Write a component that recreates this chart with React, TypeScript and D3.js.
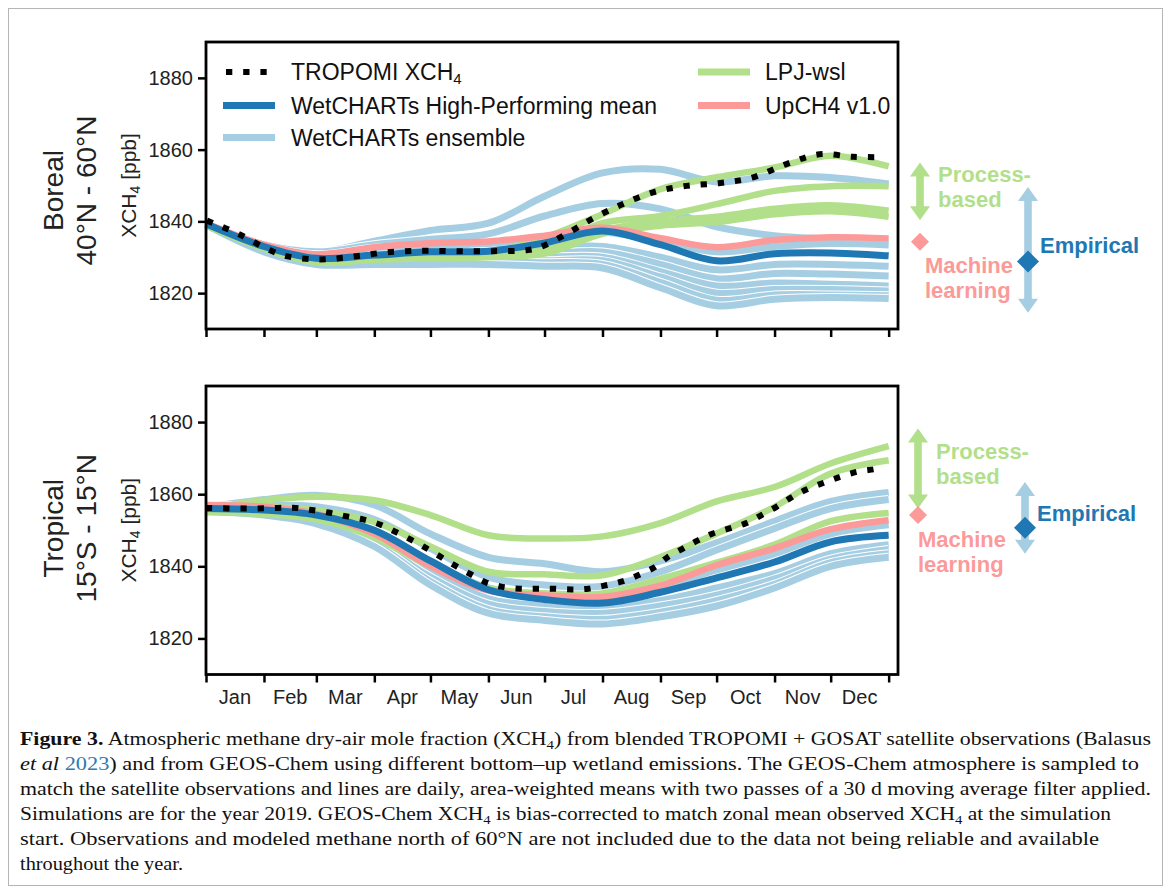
import React, { useEffect, useRef } from 'react';
import * as d3 from 'd3';

// day-of-year of the first of each month (+ end of year)
const monthStartDays = [0, 31, 59, 90, 120, 151, 181, 212, 243, 273, 304, 334, 365];
const monthMidDays = [15.5, 45, 74.5, 105, 135.5, 166, 196.5, 227.5, 258, 288.5, 319, 349.5];
const monthLabels = ['Jan', 'Feb', 'Mar', 'Apr', 'May', 'Jun', 'Jul', 'Aug', 'Sep', 'Oct', 'Nov', 'Dec'];
const yTicks = [1820, 1840, 1860, 1880];

// ---- Boreal 40N-60N ----
const borealTropomiDays = [0.5, 17, 34, 43, 61, 79, 97, 116, 134, 153, 172, 180, 196, 205, 221, 239, 257, 275, 292, 311, 328, 346, 358];
const borealTropomi = [1840.2, 1836.6, 1832, 1830.3, 1829.4, 1830.2, 1831.4, 1831.8, 1831.7, 1831.7, 1832, 1833.1, 1837.5, 1840.3, 1844.4, 1848.1, 1849.9, 1850.7, 1852.2, 1856.1, 1858.7, 1858, 1857.9];
const borealEnsemble = [
  [1839.5, 1833.5, 1831.5, 1834.5, 1837.5, 1839.5, 1847, 1853.5, 1854.5, 1851, 1852.7, 1852.2, 1850.4],
  [1839.5, 1833.5, 1831.5, 1833.5, 1835, 1836.5, 1841.5, 1845, 1843.5, 1838.5, 1836, 1835, 1834],
  [1839.3, 1833.2, 1830.7, 1832.5, 1833.2, 1833.8, 1835.5, 1837, 1834.5, 1831.5, 1833, 1833.8, 1833.4],
  [1839, 1832.5, 1829.2, 1830.5, 1831, 1831.5, 1832.5, 1833, 1830, 1826.5, 1828, 1828, 1827.5],
  [1839, 1832.5, 1829, 1830, 1830.5, 1830.5, 1831, 1831.5, 1828, 1824, 1825.5, 1825.3, 1824.8],
  [1839, 1832, 1828.5, 1829.5, 1829.5, 1829.5, 1830, 1830, 1826, 1822, 1822.8, 1822.5, 1822],
  [1839, 1832, 1828.5, 1829, 1829, 1829, 1829, 1829, 1824.5, 1820, 1821, 1821, 1820.6],
  [1839, 1832, 1828, 1828.5, 1828.5, 1828.5, 1828.5, 1828, 1823, 1818, 1819.5, 1819.5, 1819.3],
  [1839, 1831.5, 1828, 1828, 1828, 1828, 1827.5, 1827, 1821.5, 1816.5, 1818.3, 1818.8, 1818.5],
];
const borealLpj = [
  [1839, 1832.5, 1828.7, 1829.5, 1830, 1831, 1835.5, 1842, 1849, 1852.3, 1855, 1858.3, 1855.3],
  [1839, 1832.5, 1828.7, 1829.5, 1830, 1830.5, 1833, 1839.5, 1841.5, 1844.8, 1848.5, 1849.8, 1849.8],
  [1839, 1832.5, 1828.7, 1829.5, 1830, 1830.3, 1831.5, 1837.5, 1840, 1841.3, 1843.5, 1844.5, 1843],
  [1839, 1832.5, 1828.7, 1829.3, 1829.7, 1830, 1831, 1836.5, 1838.8, 1839.8, 1842, 1842.8, 1841.3],
];
const borealUpch4 = [1839.5, 1833.5, 1830.8, 1832.8, 1833.9, 1834.4, 1836, 1838.2, 1835.3, 1832.8, 1834.8, 1835.6, 1835.2];
const borealHighPerf = [1839.3, 1833, 1829.7, 1830.6, 1831.5, 1831.7, 1834, 1837.3, 1833.5, 1829, 1831, 1831.2, 1830.4];
const borealProcessRange = [1840.3, 1856.4];
const borealMachine = 1834.3;
const borealEmpiricalRange = [1814.5, 1849.6];
const borealEmpiricalMean = 1828.8;

// ---- Tropical 15S-15N ----
const tropicalTropomiDays = [0, 20, 38, 48, 56.5, 65.5, 74.5, 84, 93, 101.5, 109.5, 117.5, 125.5, 133.5, 141.5, 149.5, 158.5, 168, 177, 185.5, 195.5, 204.5, 213.5, 222.5, 231, 240, 247, 255, 263, 271, 280, 289, 297, 305, 313, 321, 330, 339, 348, 357, 360];
const tropicalTropomi = [1856.2, 1856, 1856.2, 1856.2, 1855.6, 1854.9, 1853.9, 1853, 1851.6, 1849.5, 1847.4, 1845.1, 1842.6, 1840.1, 1837.8, 1835.6, 1834.3, 1833.8, 1833.8, 1833.8, 1833.6, 1833.8, 1834.7, 1835.8, 1837.5, 1839.8, 1842.6, 1844.9, 1847.2, 1849.1, 1850.5, 1852, 1854.2, 1856.5, 1859.1, 1861.3, 1863.1, 1864.8, 1866.2, 1866.9, 1867.2];
const tropicalEnsemble = [
  [1856.5, 1858.5, 1859.7, 1857, 1849, 1842.5, 1840.7, 1838.5, 1841.5, 1846.5, 1852.5, 1858, 1860.5],
  [1856.5, 1857, 1856.5, 1853, 1845, 1837, 1834.8, 1834.5, 1838.5, 1844.5, 1850.5, 1856, 1858.5],
  [1856.3, 1856, 1854.3, 1849.5, 1841, 1834, 1832, 1831.5, 1834.5, 1839, 1843.5, 1849, 1851.5],
  [1856, 1855.2, 1853.2, 1847.5, 1838.5, 1831, 1829, 1828.5, 1830.5, 1834, 1838, 1843.5, 1846],
  [1855.7, 1854.8, 1852.7, 1846.8, 1837, 1829.5, 1827.5, 1827, 1829, 1832, 1836.5, 1842, 1844.7],
  [1855.5, 1854.5, 1852.3, 1846.3, 1835.8, 1828, 1826, 1825.3, 1827.3, 1830.5, 1835, 1841, 1843.5],
  [1855.3, 1854.2, 1851.8, 1845.5, 1834.8, 1827, 1825, 1824, 1826, 1829, 1834, 1840, 1842.5],
];
const tropicalLpj = [
  [1856, 1858.3, 1859.3, 1858.3, 1854.2, 1848.6, 1847.7, 1848.3, 1852, 1858, 1862, 1868.5, 1873.3],
  [1856.5, 1856.5, 1855.5, 1852.3, 1845.5, 1838.5, 1837.8, 1837.5, 1842.6, 1849.1, 1856.5, 1865.7, 1869.4],
  [1855, 1854.5, 1853, 1848, 1840, 1834, 1832.5, 1832.5, 1836.5, 1841, 1846, 1852.5, 1854.8],
];
const tropicalUpch4 = [1857, 1856.5, 1854.5, 1849, 1840, 1833.3, 1832, 1831.5, 1834.7, 1840.3, 1845, 1850.3, 1852.8];
const tropicalHighPerf = [1856, 1855.6, 1854.2, 1850, 1841.5, 1833.5, 1830.8, 1829.8, 1832.8, 1836.8, 1841.2, 1846.8, 1848.6];
const tropicalProcessRange = [1856, 1878.2];
const tropicalMachine = 1854.2;
const tropicalEmpiricalRange = [1843.5, 1863.4];
const tropicalEmpiricalMean = 1850.7;

const LIGHT_BLUE = '#a6cee3';
const BLUE = '#1f78b4';
const GREEN = '#b2df8a';
const PINK = '#fb9a99';
const SANS = "'Liberation Sans', Arial, Helvetica, sans-serif";
const SERIF = "'Liberation Serif', 'Times New Roman', serif";

const panels = [
  {
    top: 42, bottom: 329, title: ['Boreal', '40°N - 60°N'], legend: true, xLabels: false,
    tropomiDays: borealTropomiDays, tropomi: borealTropomi, ensemble: borealEnsemble, lpj: borealLpj,
    upch4: borealUpch4, highPerf: borealHighPerf,
    process: borealProcessRange, machine: borealMachine, empirical: borealEmpiricalRange, empiricalMean: borealEmpiricalMean,
    gx: 920, bx: 1028, mx: 925, titleShift: 5,
  },
  {
    top: 386, bottom: 674.5, title: ['Tropical', '15°S - 15°N'], legend: false, xLabels: true,
    tropomiDays: tropicalTropomiDays, tropomi: tropicalTropomi, ensemble: tropicalEnsemble, lpj: tropicalLpj,
    upch4: tropicalUpch4, highPerf: tropicalHighPerf,
    process: tropicalProcessRange, machine: tropicalMachine, empirical: tropicalEmpiricalRange, empiricalMean: tropicalEmpiricalMean,
    gx: 918, bx: 1025, mx: 918, titleShift: -2,
  },
];

const arrowPath = (cx, y1, y2) => {
  const sw = 3.8, hw = 10, hl = 14;
  return `M${cx},${y1}L${cx + hw},${y1 + hl}L${cx + sw},${y1 + hl}L${cx + sw},${y2 - hl}L${cx + hw},${y2 - hl}L${cx},${y2}` +
    `L${cx - hw},${y2 - hl}L${cx - sw},${y2 - hl}L${cx - sw},${y1 + hl}L${cx - hw},${y1 + hl}Z`;
};
const diamondPath = (cx, cy, r) => `M${cx},${cy - r}L${cx + r},${cy}L${cx},${cy + r}L${cx - r},${cy}Z`;

const Chart = () => {
  const canvas = useRef(null);

  useEffect(() => {
    const root = d3.select(canvas.current);
    root.selectAll('*').remove();

    const x = d3.scaleLinear().domain([0, 370]).range([206, 898]);
    const dotted = '6.3 10.9';
    const curve = d3.curveCatmullRom.alpha(0.5);

    panels.forEach((p) => {
      const y = d3.scaleLinear().domain([1810, 1890]).range([p.bottom, p.top]);
      const g = root.append('g');
      const line = d3.line().x((d, i) => x(monthStartDays[i])).y((d) => y(d)).curve(curve);
      const obsLine = d3.line().x((d, i) => x(p.tropomiDays[i])).y((d) => y(d)).curve(curve);

      // WetCHARTs ensemble with thin white edges
      p.ensemble.forEach((s) => {
        g.append('path').attr('d', line(s)).attr('fill', 'none').attr('stroke', '#fff').attr('stroke-width', 9);
        g.append('path').attr('d', line(s)).attr('fill', 'none').attr('stroke', LIGHT_BLUE).attr('stroke-width', 7);
      });
      p.lpj.forEach((s) => {
        g.append('path').attr('d', line(s)).attr('fill', 'none').attr('stroke', GREEN).attr('stroke-width', 6.5);
      });
      g.append('path').attr('d', line(p.upch4)).attr('fill', 'none').attr('stroke', PINK).attr('stroke-width', 6.5);
      g.append('path').attr('d', line(p.highPerf)).attr('fill', 'none').attr('stroke', BLUE).attr('stroke-width', 7);
      g.append('path').attr('d', obsLine(p.tropomi)).attr('fill', 'none').attr('stroke', '#000')
        .attr('stroke-width', 6).attr('stroke-dasharray', dotted);

      // frame
      g.append('rect').attr('x', 206).attr('y', p.top).attr('width', 692).attr('height', p.bottom - p.top)
        .attr('fill', 'none').attr('stroke', '#000').attr('stroke-width', 2.8);

      const ay = g.append('g').attr('transform', 'translate(206,0)')
        .call(d3.axisLeft(y).tickValues(yTicks).tickSize(8).tickPadding(5).tickFormat(d3.format('d')));
      ay.select('.domain').remove();
      ay.selectAll('line').attr('stroke-width', 2.5);
      ay.selectAll('text').attr('font-size', 20).attr('font-family', SANS).attr('fill', '#222');

      const ax = g.append('g').attr('transform', `translate(0,${p.bottom})`)
        .call(d3.axisBottom(x).tickValues(monthStartDays).tickSize(8).tickFormat(() => ''));
      ax.select('.domain').remove();
      ax.selectAll('line').attr('stroke-width', 2.5);

      if (p.xLabels) {
        g.selectAll('.month').data(monthLabels).join('text')
          .attr('x', (d, i) => x(monthMidDays[i])).attr('y', p.bottom + 29)
          .attr('text-anchor', 'middle').attr('font-size', 20).attr('font-family', SANS).attr('fill', '#222')
          .text((d) => d);
      }

      // row titles
      const mid = (p.top + p.bottom) / 2;
      const t = g.append('text').attr('transform', `translate(63,${mid + p.titleShift}) rotate(-90)`)
        .attr('text-anchor', 'middle').attr('font-size', 28).attr('font-family', SANS).attr('fill', '#222');
      t.append('tspan').attr('x', 0).attr('y', 0).text(p.title[0]);
      t.append('tspan').attr('x', 0).attr('y', 33).text(p.title[1]);

      const yl = g.append('text').attr('transform', `translate(136,${mid}) rotate(-90)`)
        .attr('text-anchor', 'middle').attr('font-size', 21).attr('font-family', SANS).attr('fill', '#222');
      yl.append('tspan').text('XCH');
      yl.append('tspan').attr('font-size', 14).attr('dy', 4).text('4');
      yl.append('tspan').attr('dy', -4).text(' [ppb]');

      // right-hand annotations
      const gy1 = y(p.process[1]), gy2 = y(p.process[0]);
      g.append('path').attr('d', arrowPath(p.gx, gy1, gy2)).attr('fill', GREEN);
      const gmid = (gy1 + gy2) / 2;
      const bold = (sel) => sel.attr('font-size', 22).attr('font-weight', 'bold').attr('font-family', SANS);
      bold(g.append('text').attr('x', p.gx + 18).attr('y', gmid - 9.5).attr('fill', GREEN).text('Process-'));
      bold(g.append('text').attr('x', p.gx + 18).attr('y', gmid + 15.5).attr('fill', GREEN).text('based'));

      const my = y(p.machine);
      g.append('path').attr('d', diamondPath(p.gx, my, 9)).attr('fill', PINK);
      bold(g.append('text').attr('x', p.mx).attr('y', my + 31.5).attr('fill', PINK).text('Machine'));
      bold(g.append('text').attr('x', p.mx).attr('y', my + 56.5).attr('fill', PINK).text('learning'));

      const by1 = y(p.empirical[1]), by2 = y(p.empirical[0]);
      g.append('path').attr('d', arrowPath(p.bx, by1, by2)).attr('fill', LIGHT_BLUE);
      g.append('path').attr('d', diamondPath(p.bx, y(p.empiricalMean), 11)).attr('fill', BLUE);
      bold(g.append('text').attr('x', p.bx + 12).attr('y', (by1 + by2) / 2 + 3).attr('fill', BLUE).text('Empirical'));

      if (p.legend) {
        const lg = g.append('g').attr('font-family', SANS).attr('font-size', 23).attr('fill', '#111');
        lg.append('line').attr('x1', 226).attr('x2', 271).attr('y1', 72).attr('y2', 72)
          .attr('stroke', '#000').attr('stroke-width', 6).attr('stroke-dasharray', dotted);
        const t1 = lg.append('text').attr('x', 291).attr('y', 80);
        t1.append('tspan').text('TROPOMI XCH');
        t1.append('tspan').attr('font-size', 15).attr('dy', 4).text('4');
        lg.append('line').attr('x1', 223).attr('x2', 275).attr('y1', 105.5).attr('y2', 105.5)
          .attr('stroke', BLUE).attr('stroke-width', 7);
        lg.append('text').attr('x', 291).attr('y', 113.5).text('WetCHARTs High-Performing mean');
        lg.append('line').attr('x1', 223).attr('x2', 275).attr('y1', 137.5).attr('y2', 137.5)
          .attr('stroke', LIGHT_BLUE).attr('stroke-width', 7);
        lg.append('text').attr('x', 291).attr('y', 145.5).text('WetCHARTs ensemble');
        lg.append('line').attr('x1', 698).attr('x2', 750).attr('y1', 72).attr('y2', 72)
          .attr('stroke', GREEN).attr('stroke-width', 7);
        lg.append('text').attr('x', 765).attr('y', 80).text('LPJ-wsl');
        lg.append('line').attr('x1', 698).attr('x2', 750).attr('y1', 105.5).attr('y2', 105.5)
          .attr('stroke', PINK).attr('stroke-width', 7);
        lg.append('text').attr('x', 765).attr('y', 113.5).text('UpCH4 v1.0');
      }
    });
  }, []);

  const cap = { fontFamily: SERIF, fontSize: 19, fill: '#111' };
  const sub = (s) => <tspan fontSize={13} dy={4}>{s}</tspan>;
  return (
    <svg width={1171} height={894} style={{ position: 'absolute', left: 0, top: 0, background: '#fff' }}>
      <rect x={8.5} y={8.5} width={1154} height={877} fill="#fff" stroke="#b5b5b5" strokeWidth={1} />
      <g ref={canvas} />
      <text x={20} y={745} {...cap} textLength={1131} lengthAdjust="spacingAndGlyphs">
        <tspan fontWeight="bold">{'Figure 3.'}</tspan>
        {' Atmospheric methane dry-air mole fraction (XCH'}
        {sub('4')}
        <tspan dy={-4}>{') from blended TROPOMI + GOSAT satellite observations (Balasus'}</tspan>
      </text>
      <text x={20} y={770} {...cap} textLength={1119} lengthAdjust="spacingAndGlyphs">
        <tspan fontStyle="italic">{'et al'}</tspan>
        {' '}
        <tspan fill="#2c7bb6">{'2023'}</tspan>
        {') and from GEOS-Chem using different bottom–up wetland emissions. The GEOS-Chem atmosphere is sampled to'}
      </text>
      <text x={20} y={795} {...cap} textLength={1131} lengthAdjust="spacingAndGlyphs">
        {'match the satellite observations and lines are daily, area-weighted means with two passes of a 30 d moving average filter applied.'}
      </text>
      <text x={20} y={820} {...cap} textLength={1091} lengthAdjust="spacingAndGlyphs">
        {'Simulations are for the year 2019. GEOS-Chem XCH'}
        {sub('4')}
        <tspan dy={-4}>{' is bias-corrected to match zonal mean observed XCH'}</tspan>
        {sub('4')}
        <tspan dy={-4}>{' at the simulation'}</tspan>
      </text>
      <text x={20} y={845} {...cap} textLength={1079} lengthAdjust="spacingAndGlyphs">
        {'start. Observations and modeled methane north of 60°N are not included due to the data not being reliable and available'}
      </text>
      <text x={20} y={870} {...cap} textLength={163} lengthAdjust="spacingAndGlyphs">
        {'throughout the year.'}
      </text>
    </svg>
  );
};

export default function App() {
  return <Chart />;
}
